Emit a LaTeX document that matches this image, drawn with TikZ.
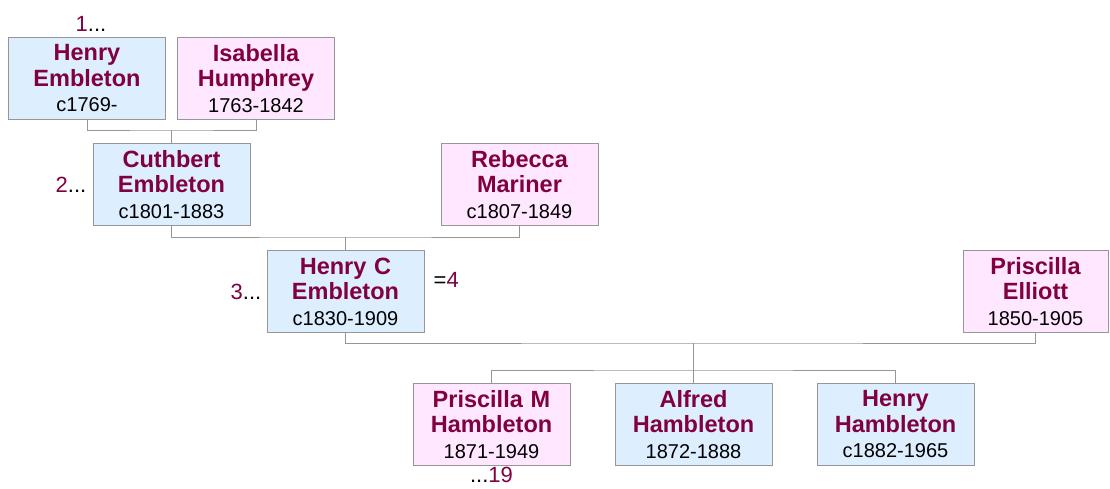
\documentclass[tikz,border=0pt]{standalone}
\usepackage{fontspec}
\setmainfont{Liberation Sans}
\usepackage{tikz}
\usetikzlibrary{positioning,calc}
\definecolor{namered}{RGB}{128,0,64}
\definecolor{boyfill}{RGB}{221,238,255}
\definecolor{girlfill}{RGB}{255,232,255}
\definecolor{linegray}{RGB}{150,150,150}
\newcommand{\born}[1]{\\{\fontsize{20}{25}\selectfont\mdseries\color{black}#1}}
\tikzset{
    person/.style={draw=linegray, line width=1pt, minimum width=157pt, minimum height=82pt,
        text width=150pt, align=center, inner sep=0pt, text=namered,
        font=\fontsize{23.5}{25.5}\selectfont\bfseries},
    male/.style={person, fill=boyfill},
    female/.style={person, fill=girlfill},
    gen/.style={font=\fontsize{22}{24}\selectfont, inner sep=0pt},
    link/.style={draw=linegray, line width=1pt}
}

\begin{document}
\begin{tikzpicture}
        \useasboundingbox (0,0) rectangle (1110pt,-488pt);
        \node[male] (henry) at (87pt,-78.5pt) {Henry\\Embleton\born{c1769-}};
        \node[female, right=11pt of henry] (isabella) {Isabella\\Humphrey\born{1763-1842}};
        \coordinate (m1) at ($(henry.south)!0.5!(isabella.south)+(0,-10pt)$);
        \node[male, below=13pt of m1] (cuthbert) {Cuthbert\\Embleton\born{c1801-1883}};
        \node[female, right=190pt of cuthbert] (rebecca) {Rebecca\\Mariner\born{c1807-1849}};
        \coordinate (m2) at ($(cuthbert.south)!0.5!(rebecca.south)+(0,-11pt)$);
        \node[male, below=13pt of m2] (henryc) {Henry C\\Embleton\born{c1830-1909}};
        \node[female, minimum width=145pt, text width=140pt, right=538pt of henryc] (priscilla) {Priscilla\\Elliott\born{1850-1905}};
        \coordinate (m3) at ($(henryc.south)!0.5!(priscilla.south)+(3pt,-10pt)$);
        \coordinate[below=27pt of m3] (k);
        \node[male, below=13pt of k] (alfred) {Alfred\\Hambleton\born{1872-1888}};
        \node[female, left=44pt of alfred] (priscillam) {Priscilla M\\Hambleton\born{1871-1949}};
        \node[male, right=44pt of alfred] (henryh) {Henry\\Hambleton\born{c1882-1965}};
        \node[gen, above=5pt of henry, xshift=4pt] (g1) {{\color{namered}1}...};
        \node[gen, left=6pt of cuthbert] (g2) {{\color{namered}2}...};
        \node[gen, left=5pt of henryc] (g3) {{\color{namered}3}...};
        \node[gen, right=9pt of henryc, yshift=12pt] (g4) {={\color{namered}4}};
        \node[gen, below=1pt of priscillam] (g19) {...{\color{namered}19}};
        \draw[link] (henry) |- (m1) -| (isabella);
        \draw[link] (m1) -- (cuthbert);
        \draw[link] (cuthbert) |- (m2) -| (rebecca);
        \draw[link] (m2) -- (henryc);
        \draw[link] (henryc) |- (m3) -| (priscilla);
        \draw[link] (m3) -- (alfred);
        \draw[link] (priscillam) |- (k) -| (henryh);
    \end{tikzpicture}
\end{document}
